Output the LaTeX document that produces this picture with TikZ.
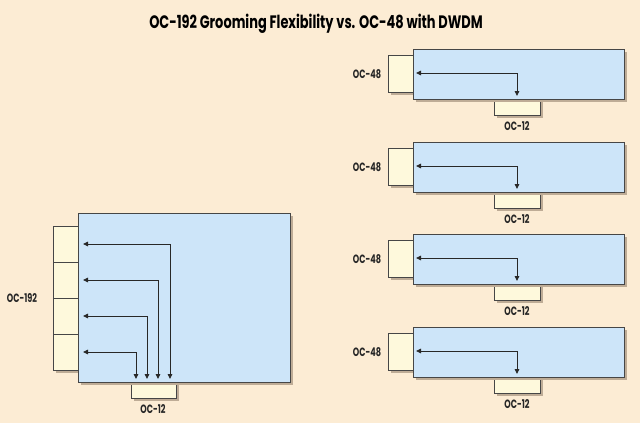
\documentclass[tikz,border=0pt]{standalone}
\usepackage{fontspec}
\usetikzlibrary{arrows.meta}
\newfontfamily\ttlfont[FakeStretch=0.72]{Poppins}
\newfontfamily\lblfont[FakeStretch=0.68]{Poppins}
\definecolor{bgc}{RGB}{252,236,212}
\definecolor{panelc}{RGB}{205,229,249}
\definecolor{portc}{RGB}{254,249,220}
\definecolor{edgec}{RGB}{70,70,70}
\definecolor{shadc}{RGB}{190,172,150}
\definecolor{wirec}{RGB}{40,40,40}
\tikzset{
  shad/.style={preaction={fill=shadc, draw=none, transform canvas={shift={(#1,-#1)}}}},
  panel/.style={draw=edgec, line width=1pt, fill=panelc, inner sep=0pt, outer sep=0pt, anchor=north west, shad=3pt},
  port/.style={draw=edgec, line width=1pt, fill=portc, inner sep=0pt, outer sep=0pt, anchor=north west, shad=2.5pt},
  lbl/.style={font=\lblfont\bfseries\fontsize{12}{13}\selectfont, text=black!85, inner sep=0pt},
  wire/.style={draw=wirec, line width=0.9pt, {Triangle[length=5pt,width=4.5pt]}-{Triangle[length=5pt,width=4.5pt]}}
}
\begin{document}
\begin{tikzpicture}[x=1pt,y=-1pt]
\fill[bgc] (0,0) rectangle (640,423);
\useasboundingbox (0,0) rectangle (640,423);
\node[font=\ttlfont\bfseries\fontsize{18}{20}\selectfont, inner sep=0pt] (title) at (316,24) {OC-192 Grooming Flexibility vs. OC-48 with DWDM};

% left OC-192 unit
\node[port, minimum width=25pt, minimum height=36pt] (b1) at (53,226) {};
\node[port, minimum width=25pt, minimum height=36pt] (b2) at (53,262) {};
\node[port, minimum width=25pt, minimum height=36pt] (b3) at (53,298) {};
\node[port, minimum width=25pt, minimum height=36pt] (b4) at (53,334) {};
\node[port, minimum width=45pt, minimum height=16pt] (bo) at (131,382) {};
\node[panel, minimum width=212pt, minimum height=169pt] (bp) at (78,213) {};
\node[lbl] (l192) at (22,298) {OC-192};
\node[lbl] (l12b) at (153,409) {OC-12};
\coordinate (s1) at (83,244); \coordinate (e1) at (170,379);
\coordinate (s2) at (83,280); \coordinate (e2) at (158,379);
\coordinate (s3) at (83,316); \coordinate (e3) at (147,379);
\coordinate (s4) at (83,352); \coordinate (e4) at (136,379);
\draw[wire] (s1) -| (e1);
\draw[wire] (s2) -| (e2);
\draw[wire] (s3) -| (e3);
\draw[wire] (s4) -| (e4);

% right OC-48 units
\foreach \i/\t in {1/49,2/142,3/234,4/327}{
  \node[port, minimum width=25pt, minimum height=37pt] (q\i) at (388,\t+6) {};
  \node[port, minimum width=46pt, minimum height=16pt] (o\i) at (494,\t+50) {};
  \node[panel, minimum width=211pt, minimum height=50pt] (p\i) at (413,\t) {};
  \node[lbl] (m\i) at (367,\t+25) {OC-48};
  \node[lbl] (n\i) at (517,\t+77) {OC-12};
  \coordinate (a\i) at (416,\t+24);
  \coordinate (c\i) at (517,\t+47);
  \draw[wire] (a\i) -| (c\i);
}
\end{tikzpicture}
\end{document}
